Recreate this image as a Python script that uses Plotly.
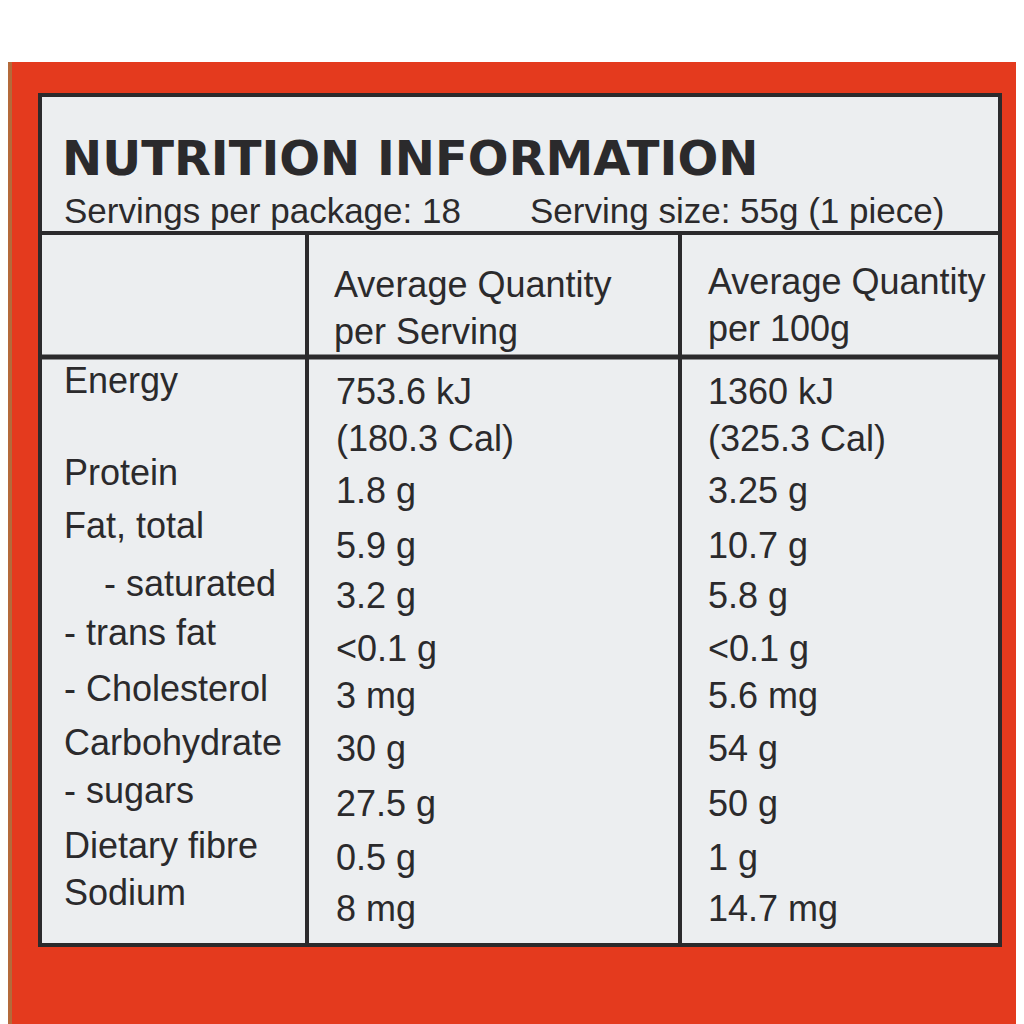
import plotly.graph_objects as go

title = "NUTRITION INFORMATION"
servings_text = "Servings per package: 18"
size_text = "Serving size: 55g (1 piece)"
col_heads = ["Average Quantity<br>per Serving", "Average Quantity<br>per 100g"]

nutrients = ["Energy", "Protein", "Fat, total", "    - saturated", "- trans fat",
             "- Cholesterol", "Carbohydrate", "- sugars", "Dietary fibre", "Sodium"]
per_serving = ["753.6 kJ<br>(180.3 Cal)", "1.8 g", "5.9 g", "3.2 g", "<0.1 g",
               "3 mg", "30 g", "27.5 g", "0.5 g", "8 mg"]
per_100g = ["1360 kJ<br>(325.3 Cal)", "3.25 g", "10.7 g", "5.8 g", "<0.1 g",
            "5.6 mg", "54 g", "50 g", "1 g", "14.7 mg"]

FONT = "Liberation Sans, Arial, sans-serif"
INK = "#2b2a2c"
fig = go.Figure()

shapes = [
    dict(type="rect", x0=0, x1=1030, y0=62, y1=1030, fillcolor="#e43a1e", line_width=0, layer="below"),
    dict(type="rect", x0=0, x1=12, y0=62, y1=1030, fillcolor="#b46a3a", line_width=0, layer="below"),
    dict(type="rect", x0=40, x1=1000, y0=95, y1=945, fillcolor="#eceef0",
         line=dict(color=INK, width=4)),
    dict(type="line", x0=40, x1=1000, y0=233, y1=233, line=dict(color=INK, width=4)),
    dict(type="line", x0=40, x1=1000, y0=357, y1=357, line=dict(color=INK, width=5)),
    dict(type="line", x0=307, x1=307, y0=233, y1=945, line=dict(color=INK, width=4)),
    dict(type="line", x0=680, x1=680, y0=233, y1=945, line=dict(color=INK, width=4)),
]

ann = [
    dict(x=60, y=158, text="<b>" + title + "</b>", font=dict(size=48, family="DejaVu Sans", color=INK)),
    dict(x=62, y=210, text=servings_text, font=dict(size=35, family=FONT, color=INK)),
    dict(x=528, y=210, text=size_text, font=dict(size=35, family=FONT, color=INK)),
    dict(x=332, y=308, text=col_heads[0], font=dict(size=36, family=FONT, color=INK)),
    dict(x=706, y=305, text=col_heads[1], font=dict(size=36, family=FONT, color=INK)),
]

name_y = [380, 472, 525, 583, 632, 688, 742, 790, 845, 892]
val_y = [415, 490, 545, 595, 648, 695, 748, 803, 857, 908]
for i in range(len(nutrients)):
    ann.append(dict(x=62, y=name_y[i], text=nutrients[i].replace(" ", "&nbsp;"),
                    font=dict(size=36, family=FONT, color=INK)))
    ann.append(dict(x=334, y=val_y[i], text=per_serving[i].replace("<0", "&lt;0"),
                    font=dict(size=36, family=FONT, color=INK)))
    ann.append(dict(x=706, y=val_y[i], text=per_100g[i].replace("<0", "&lt;0"),
                    font=dict(size=36, family=FONT, color=INK)))

for a in ann:
    a.update(xref="x", yref="y", showarrow=False, xanchor="left", yanchor="middle", align="left")

fig.update_layout(
    width=1016, height=1016, margin=dict(l=0, r=0, t=0, b=0),
    paper_bgcolor="white", plot_bgcolor="white", showlegend=False,
    shapes=shapes, annotations=ann,
    xaxis=dict(range=[8, 1024], visible=False, fixedrange=True),
    yaxis=dict(range=[1024, 8], visible=False, fixedrange=True),
)
fig.write_html("out.html")
